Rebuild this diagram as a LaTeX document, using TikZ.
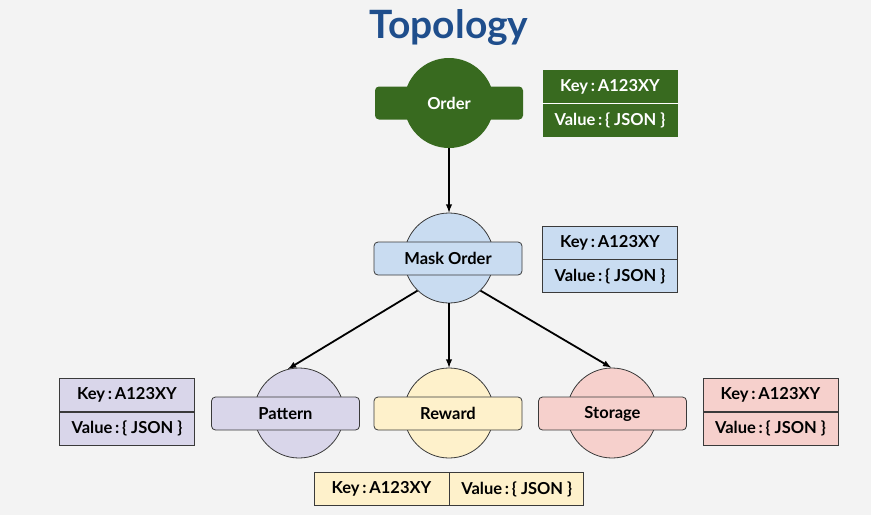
\documentclass[tikz,border=0pt]{standalone}
\usepackage{fontspec}
\setmainfont{Lato}
\usetikzlibrary{positioning}
\definecolor{bgcol}{HTML}{F3F3F3}
\definecolor{titlecol}{HTML}{1F4E8C}
\definecolor{ordcol}{HTML}{386A1F}
\definecolor{maskcol}{HTML}{C9DCF1}
\definecolor{patcol}{HTML}{D9D6EA}
\definecolor{rewcol}{HTML}{FEF1CB}
\definecolor{stocol}{HTML}{F6D0CC}
\definecolor{edgecol}{HTML}{3A3A3A}
\begin{document}
\begin{tikzpicture}[x=1pt,y=-1pt,
  font=\fontsize{16.5}{19}\selectfont\bfseries,
  topic/.style={circle,draw=edgecol,line width=0.8pt,minimum size=90pt,inner sep=0pt},
  bar/.style={rounded corners=4pt,draw=edgecol,line width=0.8pt,minimum width=148pt,minimum height=33pt,inner sep=0pt},
  kv/.style={draw=edgecol,line width=0.8pt,minimum width=135pt,minimum height=33pt,inner sep=0pt},
  flow/.style={->,>=latex,line width=1.8pt}]
\useasboundingbox (0,0) rectangle (871,515);
\fill[bgcol] (0,0) rectangle (871,515);
\node[text=titlecol,font=\fontsize{39}{45}\selectfont\bfseries] (title) at (449,28) {Topology};
% order
\node[topic,fill=ordcol,draw=none] (ordc) at (449,103) {};
\node[bar,fill=ordcol,draw=none,text=white] (ordb) at (449,103) {Order};
\node[kv,fill=ordcol,draw=none,text=white] (ordk) at (610,86.5) {Key\,:\,A123XY};
\node[kv,fill=ordcol,draw=none,text=white,below=0pt of ordk] (ordv) {Value\,:\,\{ JSON \}};
\draw[white,line width=0.8pt] (ordk.south west) -- (ordk.south east);
% mask order
\node[topic,fill=maskcol] (maskc) at (449,258) {};
\node[bar,fill=maskcol] (maskb) at (448,258.5) {Mask Order};
\node[kv,fill=maskcol] (maskk) at (610,242.5) {Key\,:\,A123XY};
\node[kv,fill=maskcol,below=0pt of maskk] (maskv) {Value\,:\,\{ JSON \}};
% pattern
\node[topic,fill=patcol] (patc) at (299,413) {};
\node[bar,fill=patcol] (patb) at (285.5,413.5) {Pattern};
\node[kv,fill=patcol] (patk) at (127,395) {Key\,:\,A123XY};
\node[kv,fill=patcol,below=0pt of patk] (patv) {Value\,:\,\{ JSON \}};
% reward
\node[topic,fill=rewcol] (rewc) at (449,413) {};
\node[bar,fill=rewcol] (rewb) at (448,413.5) {Reward};
\node[kv,fill=rewcol,minimum width=135pt] (rewk) at (381.5,489) {Key\,:\,A123XY};
\node[kv,fill=rewcol,minimum width=134pt,right=0pt of rewk] (rewv) {Value\,:\,\{ JSON \}};
% storage
\node[topic,fill=stocol] (stoc) at (612,413) {};
\node[bar,fill=stocol] (stob) at (612.5,413.5) {Storage};
\node[kv,fill=stocol] (stok) at (770.5,395) {Key\,:\,A123XY};
\node[kv,fill=stocol,below=0pt of stok] (stov) {Value\,:\,\{ JSON \}};
% arrows
\draw[flow] (ordc.south) -- (maskc.north);
\draw[flow] (maskc.226) -- (patc.104);
\draw[flow] (maskc.south) -- (rewc.north);
\draw[flow] (maskc.314) -- (stoc.91);
\end{tikzpicture}
\end{document}
